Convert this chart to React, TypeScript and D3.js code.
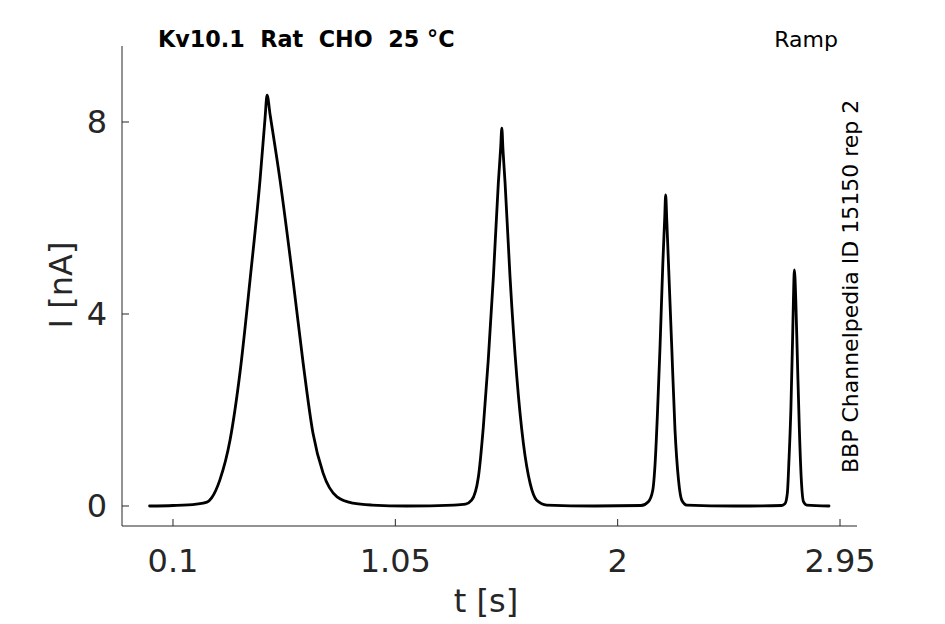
import React from "react";
import * as d3 from "d3";

const times = [
  0.0, 0.1, 0.2, 0.245, 0.265, 0.3, 0.344, 0.386, 0.429, 0.472, 0.493, 0.502, 0.515, 0.557, 0.613, 0.656, 0.698, 0.741, 0.801, 0.869, 0.95,
  1.1, 1.3, 1.35, 1.376, 1.405, 1.426, 1.447, 1.469, 1.49, 1.5, 1.505, 1.51, 1.519, 1.54, 1.569, 1.597, 1.626, 1.654, 1.697,
  1.9, 2.1, 2.131, 2.15, 2.16, 2.17, 2.181, 2.193, 2.201, 2.205, 2.21, 2.217, 2.231, 2.245, 2.26, 2.274, 2.295,
  2.5, 2.7, 2.715, 2.725, 2.732, 2.74, 2.747, 2.751, 2.755, 2.761, 2.768, 2.776, 2.784, 2.794, 2.808, 2.903,
];
const currents = [
  0.0, 0.01, 0.04, 0.08, 0.17, 0.54, 1.38, 2.77, 4.7, 6.8, 8.06, 8.56, 8.15, 6.8, 4.7, 2.98, 1.52, 0.69, 0.19, 0.06, 0.02,
  0.0, 0.02, 0.04, 0.12, 0.61, 1.65, 3.04, 4.78, 6.72, 7.46, 7.87, 7.42, 6.72, 4.78, 2.69, 1.31, 0.47, 0.12, 0.02,
  0.0, 0.01, 0.09, 0.33, 0.89, 1.93, 3.32, 5.06, 6.0, 6.48, 5.93, 5.06, 3.32, 1.58, 0.54, 0.12, 0.02,
  0.0, 0.01, 0.05, 0.27, 0.96, 2.0, 3.4, 4.3, 4.92, 4.3, 3.04, 1.65, 0.61, 0.09, 0.02, 0.0,
];
const xTicks = [0.1, 1.05, 2, 2.95];
const xTickLabels = ["0.1", "1.05", "2", "2.95"];
const yTicks = [0, 4, 8];
const yTickLabels = ["0", "4", "8"];
const titleText = "Kv10.1  Rat  CHO  25 °C";
const protocolText = "Ramp";
const sourceText = "BBP Channelpedia ID 15150 rep 2";
const xLabel = "t [s]";
const yLabel = "I [nA]";

const W = 945;
const H = 624;
const left = 122;
const right = 857;
const top = 46;
const bottom = 526;
const axisColor = "#262626";
const font = "'DejaVu Sans', sans-serif";

export default function App() {
  const x = d3.scaleLinear().domain([-0.1179, 3.0226]).range([left, right]);
  const y = d3.scaleLinear().domain([-0.4167, 9.5833]).range([bottom, top]);
  const pts = times.map((t, i) => [t, currents[i]] as [number, number]);
  const line = d3
    .line<[number, number]>()
    .x((d) => x(d[0]))
    .y((d) => y(d[1]))
    .curve(d3.curveMonotoneX);

  return (
    <svg
      width={W}
      height={H}
      style={{ position: "fixed", left: 0, top: 0, background: "#fff" }}
      fontFamily={font}
    >
      <rect x={0} y={0} width={W} height={H} fill="#fff" />
      {/* axes */}
      <line x1={left} y1={top} x2={left} y2={bottom} stroke={axisColor} strokeWidth={1} />
      <line x1={left} y1={bottom} x2={right} y2={bottom} stroke={axisColor} strokeWidth={1} />
      {xTicks.map((t, i) => (
        <g key={"xt" + i}>
          <line x1={x(t)} x2={x(t)} y1={bottom} y2={bottom - 7} stroke={axisColor} strokeWidth={1} />
          <text x={x(t)} y={572} textAnchor="middle" fontSize={32} fill={axisColor}>
            {xTickLabels[i]}
          </text>
        </g>
      ))}
      {yTicks.map((v, i) => (
        <g key={"yt" + i}>
          <line x1={left} x2={left + 7} y1={y(v)} y2={y(v)} stroke={axisColor} strokeWidth={1} />
          <text x={107} y={y(v) + 11.5} textAnchor="end" fontSize={32} fill={axisColor}>
            {yTickLabels[i]}
          </text>
        </g>
      ))}
      <text x={486} y={612} textAnchor="middle" fontSize={32} fill={axisColor}>
        {xLabel}
      </text>
      <text
        transform="translate(72,285) rotate(-90)"
        textAnchor="middle"
        fontSize={32}
        fill={axisColor}
      >
        {yLabel}
      </text>
      {/* trace */}
      <path
        d={line(pts) || ""}
        fill="none"
        stroke="#000"
        strokeWidth={2.8}
        strokeLinejoin="round"
        strokeLinecap="round"
      />
      {/* annotations */}
      <text x={158} y={47} fontSize={22.3} fontWeight="bold" fill="#000" style={{ whiteSpace: "pre" }}>
        {titleText}
      </text>
      <text x={838} y={47} fontSize={22} textAnchor="end" fill="#000">
        {protocolText}
      </text>
      <text transform="translate(858,473) rotate(-90)" fontSize={22} fill="#000">
        {sourceText}
      </text>
    </svg>
  );
}
